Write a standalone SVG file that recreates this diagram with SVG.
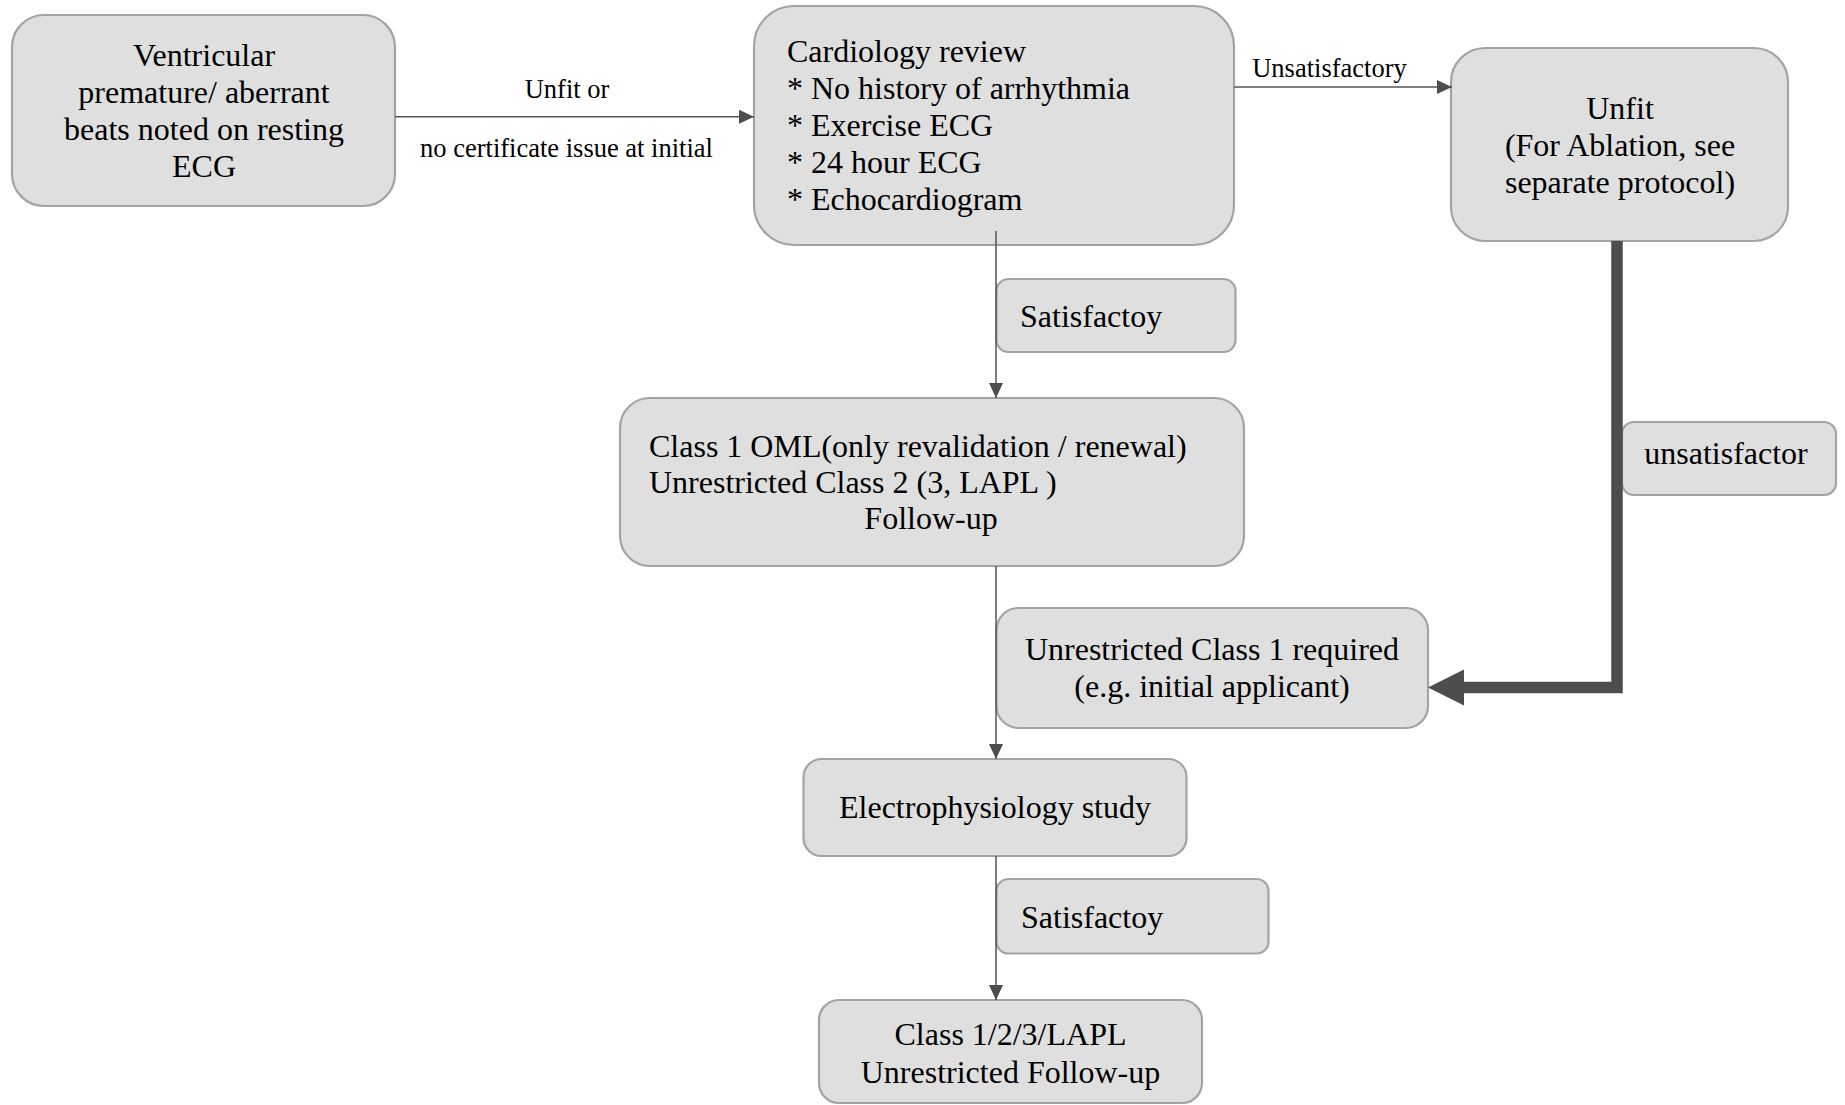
<svg xmlns="http://www.w3.org/2000/svg" width="1845" height="1105" viewBox="0 0 1845 1105">
  <style>
    .box { fill: #dfdfdf; stroke: #a3a3a3; stroke-width: 2.2; }
    .txt { font-family: "Liberation Serif", "Times New Roman", serif; font-size: 32px; fill: #000; }
    .lbl { font-family: "Liberation Serif", "Times New Roman", serif; font-size: 26.5px; fill: #000; }
    .mid { text-anchor: middle; }
    .wire { fill: none; stroke: #555555; stroke-width: 1.5; }
    .thick { fill: none; stroke: #4d4d4d; stroke-width: 11.5; stroke-linejoin: miter; stroke-linecap: butt; }
  </style>
  <defs>
    <marker id="arrow" markerUnits="userSpaceOnUse" viewBox="0 0 15 14" markerWidth="15" markerHeight="14" refX="15" refY="7" orient="auto">
      <path d="M0,0 L15,7 L0,14 z" fill="#4d4d4d"/>
    </marker>
  </defs>
  <rect width="1845" height="1105" fill="#ffffff"/>

  <!-- nodes -->
  <g id="node-ventricular">
    <rect class="box" x="12" y="15" width="383" height="191" rx="32" ry="32"/>
    <text class="txt mid" x="204" y="65.7">Ventricular</text>
    <text class="txt mid" x="204" y="102.7">premature/ aberrant</text>
    <text class="txt mid" x="204" y="139.7">beats noted on resting</text>
    <text class="txt mid" x="204" y="176.7">ECG</text>
  </g>

  <g id="node-cardiology">
    <rect class="box" x="754" y="6" width="480" height="239" rx="40" ry="40"/>
    <text class="txt" x="787" y="62">Cardiology review</text>
    <text class="txt" x="787" y="99">* No history of arrhythmia</text>
    <text class="txt" x="787" y="136">* Exercise ECG</text>
    <text class="txt" x="787" y="173">* 24 hour ECG</text>
    <text class="txt" x="787" y="210">* Echocardiogram</text>
  </g>

  <g id="node-unfit">
    <rect class="box" x="1451" y="48" width="337" height="193" rx="34" ry="34"/>
    <text class="txt mid" x="1620" y="118.5">Unfit</text>
    <text class="txt mid" x="1620" y="155.5">(For Ablation, see</text>
    <text class="txt mid" x="1620" y="192.5">separate protocol)</text>
  </g>

  <g id="node-satisfactory-1">
    <rect class="box" x="996.5" y="279" width="239" height="73" rx="12" ry="12"/>
    <text class="txt" x="1020" y="326.7">Satisfactoy</text>
  </g>

  <g id="node-class1-oml">
    <rect class="box" x="620" y="398" width="624" height="168" rx="30" ry="30"/>
    <text class="txt" x="649" y="456.7">Class 1 OML(only revalidation / renewal)</text>
    <text class="txt" x="649" y="493">Unrestricted Class 2 (3, LAPL )</text>
    <text class="txt mid" x="931" y="529">Follow-up</text>
  </g>

  <g id="node-unsatisfactory">
    <rect class="box" x="1622" y="422" width="214" height="73" rx="12" ry="12"/>
    <text class="txt mid" x="1726" y="464">unsatisfactor</text>
  </g>

  <g id="node-unrestricted-class1">
    <rect class="box" x="996.5" y="608" width="431.5" height="120" rx="22" ry="22"/>
    <text class="txt mid" x="1212" y="660">Unrestricted Class 1 required</text>
    <text class="txt mid" x="1212" y="697">(e.g. initial applicant)</text>
  </g>

  <g id="node-electrophysiology">
    <rect class="box" x="803.5" y="759" width="383" height="97" rx="18" ry="18"/>
    <text class="txt mid" x="995" y="818.3">Electrophysiology study</text>
  </g>

  <g id="node-satisfactory-2">
    <rect class="box" x="996.5" y="879" width="272" height="74.5" rx="12" ry="12"/>
    <text class="txt" x="1021" y="928.3">Satisfactoy</text>
  </g>

  <g id="node-unrestricted-followup">
    <rect class="box" x="819" y="1000" width="383" height="103" rx="20" ry="20"/>
    <text class="txt mid" x="1010.5" y="1045">Class 1/2/3/LAPL</text>
    <text class="txt mid" x="1010.5" y="1083">Unrestricted Follow-up</text>
  </g>

  <!-- connectors -->
  <g id="connectors">
    <line class="wire" x1="395" y1="116.7" x2="754" y2="116.7" marker-end="url(#arrow)"/>
    <text class="lbl mid" x="567" y="98.3">Unfit or</text>
    <text class="lbl mid" x="566.5" y="157">no certificate issue at initial</text>

    <line class="wire" x1="1234" y1="87" x2="1452" y2="87" marker-end="url(#arrow)"/>
    <text class="lbl mid" x="1329.5" y="77">Unsatisfactory</text>

    <line class="wire" x1="996" y1="231" x2="996" y2="398" marker-end="url(#arrow)"/>
    <line class="wire" x1="996" y1="566" x2="996" y2="759" marker-end="url(#arrow)"/>
    <line class="wire" x1="996" y1="856" x2="996" y2="1000" marker-end="url(#arrow)"/>

    <polyline class="thick" points="1617,241 1617,687.5 1462,687.5"/>
    <polygon points="1428,687.5 1464,669.5 1464,705.5" fill="#4d4d4d"/>
  </g>
</svg>
